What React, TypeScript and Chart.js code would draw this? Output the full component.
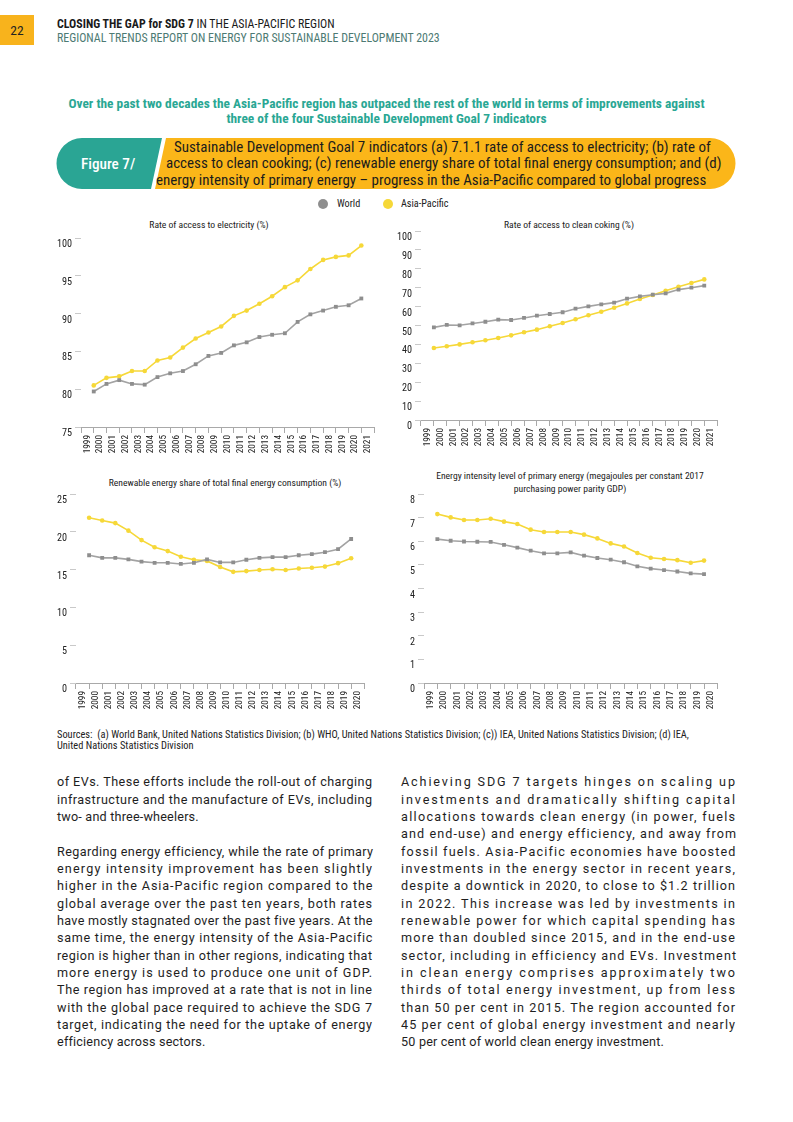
import React, { useEffect, useLayoutEffect, useRef } from "react";
import { Chart, registerables } from "chart.js";

Chart.register(...registerables);

const COND = "'Roboto Condensed', 'Liberation Sans Narrow', 'Arial Narrow', 'DejaVu Sans Condensed', sans-serif";
const BODY = "Roboto, 'Noto Sans', sans-serif";

const WORLD_LINE = "#a3a3a3";
const WORLD_POINT = "#8e8e8e";
const ASIA_COLOR = "#f6d838";
const TEAL = "#2aa794";

// ---- tick labels ----
const years1999to2021 = ["1999", "2000", "2001", "2002", "2003", "2004", "2005", "2006", "2007", "2008", "2009", "2010", "2011", "2012", "2013", "2014", "2015", "2016", "2017", "2018", "2019", "2020", "2021"];
const years1999to2020 = ["1999", "2000", "2001", "2002", "2003", "2004", "2005", "2006", "2007", "2008", "2009", "2010", "2011", "2012", "2013", "2014", "2015", "2016", "2017", "2018", "2019", "2020"];

// ---- (a) access to electricity (%) ----
const elecWorld = [79.7, 80.7, 81.2, 80.7, 80.6, 81.6, 82.1, 82.4, 83.3, 84.4, 84.8, 85.8, 86.2, 86.9, 87.2, 87.4, 88.9, 89.9, 90.4, 90.9, 91.1, 92.0];
const elecAsia = [80.5, 81.5, 81.7, 82.4, 82.4, 83.8, 84.2, 85.5, 86.7, 87.5, 88.3, 89.7, 90.4, 91.3, 92.3, 93.5, 94.4, 95.9, 97.1, 97.5, 97.7, 99.0];

// ---- (b) access to clean cooking (%) ----
const cookWorld = [49.0, 50.3, 50.1, 51.1, 52.0, 53.1, 52.9, 54.0, 55.2, 56.1, 57.0, 58.9, 60.1, 61.2, 62.1, 64.2, 65.4, 66.3, 67.0, 69.0, 70.0, 71.1];
const cookAsia = [38.1, 39.0, 40.0, 41.1, 42.2, 43.4, 44.8, 46.4, 47.8, 49.6, 51.3, 53.3, 55.4, 57.3, 59.4, 61.7, 64.0, 66.1, 68.4, 70.5, 72.5, 74.4];

// ---- (c) renewable share of TFEC (%) ----
const renWorld = [16.9, 16.55, 16.55, 16.35, 16.05, 15.9, 15.9, 15.75, 15.9, 16.35, 15.95, 15.95, 16.3, 16.55, 16.65, 16.65, 16.9, 17.05, 17.3, 17.7, 19.05];
const renAsia = [21.85, 21.5, 21.15, 20.15, 18.9, 17.95, 17.45, 16.7, 16.3, 16.15, 15.35, 14.7, 14.8, 14.95, 15.05, 14.95, 15.15, 15.25, 15.4, 15.85, 16.5];

// ---- (d) energy intensity (MJ per 2017 PPP GDP) ----
const intWorld = [6.09, 6.02, 5.99, 5.98, 5.97, 5.85, 5.73, 5.6, 5.49, 5.49, 5.53, 5.39, 5.29, 5.22, 5.11, 4.94, 4.84, 4.78, 4.72, 4.64, 4.61];
const intAsia = [7.15, 7.01, 6.9, 6.9, 6.95, 6.83, 6.73, 6.49, 6.39, 6.39, 6.39, 6.28, 6.12, 5.91, 5.78, 5.5, 5.3, 5.25, 5.2, 5.09, 5.18];

// ---- text ----
const leftLines: [string, boolean][] = [
  ["of EVs. These efforts include the roll-out of charging", true],
  ["infrastructure and the manufacture of EVs, including", true],
  ["two- and three-wheelers.", false],
  ["", false],
  ["Regarding energy efficiency, while the rate of primary", true],
  ["energy intensity improvement has been slightly", true],
  ["higher in the Asia-Pacific region compared to the", true],
  ["global average over the past ten years, both rates", true],
  ["have mostly stagnated over the past five years. At the", true],
  ["same time, the energy intensity of the Asia-Pacific", true],
  ["region is higher than in other regions, indicating that", true],
  ["more energy is used to produce one unit of GDP.", true],
  ["The region has improved at a rate that is not in line", true],
  ["with the global pace required to achieve the SDG 7", true],
  ["target, indicating the need for the uptake of energy", true],
  ["efficiency across sectors.", false],
];
const rightLines: [string, boolean][] = [
  ["Achieving SDG 7 targets hinges on scaling up", true],
  ["investments and dramatically shifting capital", true],
  ["allocations towards clean energy (in power, fuels", true],
  ["and end-use) and energy efficiency, and away from", true],
  ["fossil fuels. Asia-Pacific economies have boosted", true],
  ["investments in the energy sector in recent years,", true],
  ["despite a downtick in 2020, to close to $1.2 trillion", true],
  ["in 2022. This increase was led by investments in", true],
  ["renewable power for which capital spending has", true],
  ["more than doubled since 2015, and in the end-use", true],
  ["sector, including in efficiency and EVs. Investment", true],
  ["in clean energy comprises approximately two", true],
  ["thirds of total energy investment, up from less", true],
  ["than 50 per cent in 2015. The region accounted for", true],
  ["45 per cent of global energy investment and nearly", true],
  ["50 per cent of world clean energy investment.", false],
];

type Box = { left: number; right: number; top: number; bottom: number };

const YW = 30;
const XH = 30;
const PT = 10;
const PR = 6;

function LineChart(props: {
  labels: string[];
  world: number[];
  asia: number[];
  min: number;
  max: number;
  step: number;
  box: Box;
}) {
  const { labels, world, asia, min, max, step, box } = props;
  const ref = useRef<HTMLCanvasElement>(null);
  const w = YW + (box.right - box.left) + PR;
  const h = PT + (box.bottom - box.top) + XH;

  useEffect(() => {
    if (!ref.current) return;
    const n = labels.length;
    const toPts = (vals: number[]) => vals.map((v, i) => ({ x: i + 0.5, y: v }));
    const chart = new Chart(ref.current, {
      type: "line",
      data: {
        labels,
        datasets: [
          {
            label: "World",
            data: toPts(world),
            xAxisID: "xd",
            yAxisID: "y",
            borderColor: WORLD_LINE,
            backgroundColor: WORLD_POINT,
            pointBorderColor: WORLD_POINT,
            pointBackgroundColor: WORLD_POINT,
            pointStyle: "rect",
            pointRadius: 2.7,
            pointBorderWidth: 0,
            borderWidth: 1.6,
            tension: 0,
            fill: false,
          },
          {
            label: "Asia-Pacific",
            data: toPts(asia),
            xAxisID: "xd",
            yAxisID: "y",
            borderColor: ASIA_COLOR,
            backgroundColor: ASIA_COLOR,
            pointBorderColor: ASIA_COLOR,
            pointBackgroundColor: ASIA_COLOR,
            pointStyle: "circle",
            pointRadius: 2.3,
            pointBorderWidth: 0,
            borderWidth: 1.6,
            tension: 0,
            fill: false,
          },
        ],
      } as any,
      options: {
        responsive: false,
        animation: false,
        devicePixelRatio: 1,
        layout: { padding: { top: PT, right: PR, left: 0, bottom: 0 } },
        plugins: {
          legend: { display: false },
          tooltip: { enabled: false },
          title: { display: false },
        },
        scales: {
          x: {
            type: "category",
            position: "bottom",
            offset: true,
            grid: {
              display: true,
              drawOnChartArea: false,
              drawTicks: true,
              tickLength: 6,
              offset: true,
              color: "#a9a9a9",
              lineWidth: 1,
            },
            border: { display: true, color: "#a9a9a9", width: 1 },
            ticks: {
              autoSkip: false,
              maxRotation: 90,
              minRotation: 90,
              padding: 2,
              color: "#222",
              font: { family: COND, size: 9.3 },
            },
            afterFit: (s: any) => {
              s.height = XH;
            },
          },
          xd: {
            type: "linear",
            position: "bottom",
            display: false,
            min: -0.5,
            max: n - 0.5,
          },
          y: {
            type: "linear",
            position: "left",
            min,
            max,
            ticks: {
              stepSize: step,
              labelOffset: 6.5,
              padding: 3,
              color: "#222",
              font: { family: COND, size: 10.2 },
            },
            grid: {
              display: true,
              drawOnChartArea: false,
              drawTicks: true,
              tickLength: 6,
              color: "#c9c9c9",
            },
            border: { display: false },
            afterFit: (s: any) => {
              s.width = YW;
            },
          },
        },
      } as any,
    });
    return () => chart.destroy();
  }, []);

  return (
    <canvas
      ref={ref}
      width={w}
      height={h}
      style={{ position: "absolute", left: box.left - YW, top: box.top - PT, width: w, height: h }}
    />
  );
}

const abs = (left: number, top: number, extra: React.CSSProperties = {}): React.CSSProperties => ({
  position: "absolute",
  left,
  top,
  whiteSpace: "nowrap",
  ...extra,
});

function JLine(props: { text: string; width: number; justify: boolean }) {
  const ref = useRef<HTMLSpanElement>(null);
  useLayoutEffect(() => {
    const el = ref.current;
    if (!el || !props.justify) return;
    const apply = () => {
      el.style.letterSpacing = "0px";
      const nat = el.getBoundingClientRect().width;
      const n = props.text.length;
      if (n > 1) el.style.letterSpacing = (props.width - nat) / (n - 1) + "px";
    };
    apply();
    const f = (document as any).fonts;
    if (f && f.ready) f.ready.then(apply);
  }, []);
  return (
    <span ref={ref} style={{ display: "inline-block", whiteSpace: "pre", letterSpacing: props.justify ? 0 : 0.2 }}>
      {props.text}
    </span>
  );
}

function Column(props: { lines: [string, boolean][]; left: number; width: number; top: number }) {
  const LH = 17.33;
  return (
    <div style={{ position: "absolute", left: props.left, top: props.top, width: props.width }}>
      {props.lines.map(([t, j], i) => (
        <div
          key={i}
          style={{
            height: LH,
            lineHeight: LH + "px",
            fontFamily: BODY,
            fontSize: 12.6,
            color: "#1e1e1e",
            whiteSpace: "nowrap",
          }}
        >
          <JLine text={t} width={props.width} justify={j} />
        </div>
      ))}
    </div>
  );
}

export default function App() {
  return (
    <div
      style={{
        position: "absolute",
        left: 0,
        top: 0,
        width: 793,
        height: 1122,
        overflow: "hidden",
        background: "#fff",
        fontFamily: COND,
        color: "#222",
      }}
    >
      {/* page number */}
      <div
        style={{
          position: "absolute",
          left: 0,
          top: 15,
          width: 34,
          height: 30,
          background: "#f8b31c",
          color: "#222",
          fontFamily: COND,
          fontSize: 13.5,
          lineHeight: "30px",
          textAlign: "center",
        }}
      >
        22
      </div>
      <div style={abs(57, 16.5, { fontSize: 11.9, lineHeight: "14px", color: "#1a1a1a" })}>
        <b>CLOSING THE GAP for SDG 7</b> IN THE ASIA-PACIFIC REGION
      </div>
      <div style={abs(57, 30.5, { fontSize: 11.9, lineHeight: "14px", color: "#4d7a73" })}>
        REGIONAL TRENDS REPORT ON ENERGY FOR SUSTAINABLE DEVELOPMENT 2023
      </div>

      {/* headline */}
      <div
        style={{
          position: "absolute",
          left: 0,
          width: 773,
          top: 95.5,
          textAlign: "center",
          color: TEAL,
          fontWeight: 700,
          fontSize: 13.4,
          lineHeight: "15px",
        }}
      >
        Over the past two decades the Asia-Pacific region has outpaced the rest of the world in terms of improvements against
        <br />
        three of the four Sustainable Development Goal 7 indicators
      </div>

      {/* banner */}
      <svg width={793} height={200} style={{ position: "absolute", left: 0, top: 0 }}>
        <path d="M 82 138 L 162 138 L 151 189 L 82 189 A 25.5 25.5 0 0 1 82 138 Z" fill="#2aa594" />
        <path d="M 166 138 L 710 138 A 25.5 25.5 0 0 1 710 189 L 155 189 Z" fill="#fbb619" />
      </svg>
      <div style={abs(81, 154.5, { fontSize: 15.2, lineHeight: "18px", color: "#fff", fontWeight: 500 })}>Figure 7/</div>
      <div style={abs(174, 138.5, { fontSize: 15, lineHeight: "16.5px", color: "#1c1c1c" })}>
        Sustainable Development Goal 7 indicators (a) 7.1.1 rate of access to electricity; (b) rate of
      </div>
      <div style={abs(166, 155, { fontSize: 15, lineHeight: "16.5px", color: "#1c1c1c" })}>
        access to clean cooking; (c) renewable energy share of total final energy consumption; and (d)
      </div>
      <div style={abs(156, 171.5, { fontSize: 15, lineHeight: "16.5px", color: "#1c1c1c" })}>
        energy intensity of primary energy – progress in the Asia-Pacific compared to global progress
      </div>

      {/* legend */}
      <div style={abs(318, 199, { width: 10, height: 10, borderRadius: 5, background: WORLD_POINT })} />
      <div style={abs(337, 197, { fontSize: 10.2, lineHeight: "14px", color: "#222" })}>World</div>
      <div style={abs(383, 199, { width: 10, height: 10, borderRadius: 5, background: ASIA_COLOR })} />
      <div style={abs(401, 197, { fontSize: 10.2, lineHeight: "14px", color: "#222" })}>Asia-Pacific</div>

      {/* chart titles */}
      <div style={{ position: "absolute", left: 109, width: 200, top: 219, textAlign: "center", fontSize: 9.6, lineHeight: "12px" }}>
        Rate of access to electricity (%)
      </div>
      <div style={{ position: "absolute", left: 469, width: 200, top: 219, textAlign: "center", fontSize: 9.6, lineHeight: "12px" }}>
        Rate of access to clean coking (%)
      </div>
      <div style={{ position: "absolute", left: 95, width: 260, top: 477, textAlign: "center", fontSize: 9.6, lineHeight: "12px" }}>
        Renewable energy share of total final energy consumption (%)
      </div>
      <div style={{ position: "absolute", left: 420, width: 300, top: 470, textAlign: "center", fontSize: 9.6, lineHeight: "12.5px" }}>
        Energy intensity level of primary energy (megajoules per constant 2017
        <br />
        purchasing power parity GDP)
      </div>

      <LineChart labels={years1999to2021} world={elecWorld} asia={elecAsia} min={75} max={100} step={5} box={{ left: 81, right: 375, top: 238, bottom: 427 }} />
      <LineChart labels={years1999to2021} world={cookWorld} asia={cookAsia} min={0} max={100} step={10} box={{ left: 421, right: 718, top: 231, bottom: 420 }} />
      <LineChart labels={years1999to2020} world={renWorld} asia={renAsia} min={0} max={25} step={5} box={{ left: 76, right: 365, top: 494, bottom: 683 }} />
      <LineChart labels={years1999to2020} world={intWorld} asia={intAsia} min={0} max={8} step={1} box={{ left: 424, right: 718, top: 494, bottom: 683 }} />

      {/* sources */}
      <div style={abs(57, 728.5, { fontSize: 10.4, lineHeight: "11.5px", color: "#222", whiteSpace: "normal", width: 700 })}>
        Sources:&nbsp; (a) World Bank, United Nations Statistics Division; (b) WHO, United Nations Statistics Division; (c)) IEA, United Nations Statistics Division; (d) IEA,
        <br />
        United Nations Statistics Division
      </div>

      <Column lines={leftLines} left={57} width={315} top={773.3} />
      <Column lines={rightLines} left={401} width={334} top={773.3} />
    </div>
  );
}
